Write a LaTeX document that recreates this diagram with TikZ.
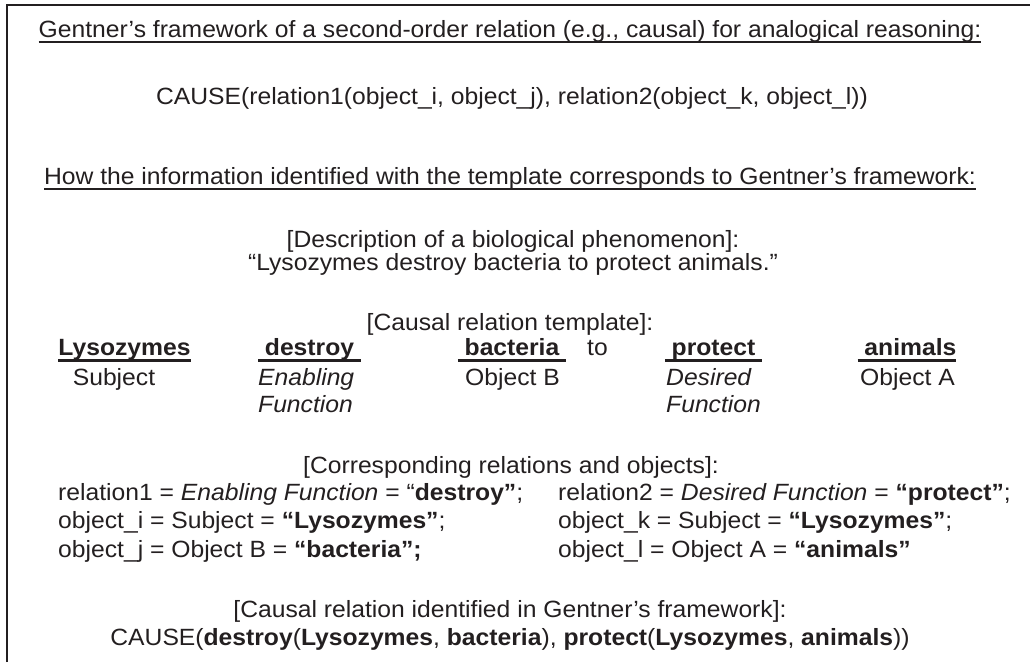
\documentclass[tikz,border=0pt]{standalone}
\usepackage{fontspec}
\usepackage{graphicx}
\setmainfont{Liberation Sans}[FakeStretch=1.05]
\definecolor{ink}{HTML}{231F20}
\newcommand{\ulin}[3]{\setbox0=\hbox{#3}\rlap{\rule[-#1]{\wd0}{#2}}\box0}
\tikzset{
  txt/.style={font=\fontsize{23.5}{28}\selectfont, text=ink, inner sep=0pt, anchor=base},
  lt/.style={txt, anchor=base west},
  frame/.style={draw=ink, line width=2pt, line join=miter}
}
\begin{document}
\begin{tikzpicture}[x=1pt,y=-1pt]
\useasboundingbox (0,0) rectangle (1030,662);
\draw[frame] (6.7,662) -- (6.7,5.3) -- (1030,5.3);

\node[txt] (t1) at (510,37) {\ulin{5.5pt}{1.5pt}{Gentner’s framework of a second-order relation (e.g., causal) for analogical reasoning:}};
\node[txt] (f1) at (512,104) {CAUSE(relation1(object\_i, object\_j), relation2(object\_k, object\_l))};
\node[txt] (t2) at (510,184) {\ulin{5.5pt}{1.5pt}{How the information identified with the template corresponds to Gentner’s framework:}};

\node[txt] (d1) at (513,247) {[Description of a biological phenomenon]:};
\node[txt] (d2) at (513,270) {“Lysozymes destroy bacteria to protect animals.”};

\node[txt] (th) at (510,330) {[Causal relation template]:};
\node[txt] (w1) at (124.5,355) {\bfseries\ulin{6.5pt}{2.5pt}{Lysozymes}};
\node[txt] (w2) at (309.5,355) {\bfseries\ulin{6.5pt}{2.5pt}{\ destroy\ }};
\node[txt] (w3) at (512,355) {\bfseries\ulin{6.5pt}{2.5pt}{\ bacteria\ }};
\node[txt] (w4) at (597.5,355) {to};
\node[txt] (w5) at (713.5,355) {\bfseries\ulin{6.5pt}{2.5pt}{\ protect\ }};
\node[txt] (w6) at (907,355) {\bfseries\ulin{6.5pt}{2.5pt}{\ animals}};

\node[txt] (r1) at (114,385) {Subject};
\node[lt] (r2) at (258,385) {\itshape Enabling};
\node[lt] (r2b) at (258,412) {\itshape Function};
\node[txt] (r3) at (512.5,385) {Object B};
\node[lt] (r5) at (666,385) {\itshape Desired};
\node[lt] (r5b) at (666,412) {\itshape Function};
\node[txt] (r6) at (907.5,385) {Object A};

\node[txt] (ch) at (511,473) {[Corresponding relations and objects]:};
\node[lt] (c1) at (58,500) {relation1 = \textit{Enabling Function} = “\textbf{destroy”};};
\node[lt] (c2) at (558,500) {relation2 = \textit{Desired Function} = \textbf{“protect”};};
\node[lt] (c3) at (58,528) {object\_i = Subject = \textbf{“Lysozymes”};};
\node[lt] (c4) at (558,528) {object\_k = Subject = \textbf{“Lysozymes”};};
\node[lt] (c5) at (58,557) {object\_j = Object B = \textbf{“bacteria”;}};
\node[lt] (c6) at (558,557) {object\_l = Object A = \textbf{“animals”}};

\node[txt] (gh) at (510,617) {[Causal relation identified in Gentner’s framework]:};
\node[txt] (gf) at (510,645) {CAUSE(\textbf{destroy}(\textbf{Lysozymes}, \textbf{bacteria}), \textbf{protect}(\textbf{Lysozymes}, \textbf{animals}))};
\end{tikzpicture}
\end{document}
